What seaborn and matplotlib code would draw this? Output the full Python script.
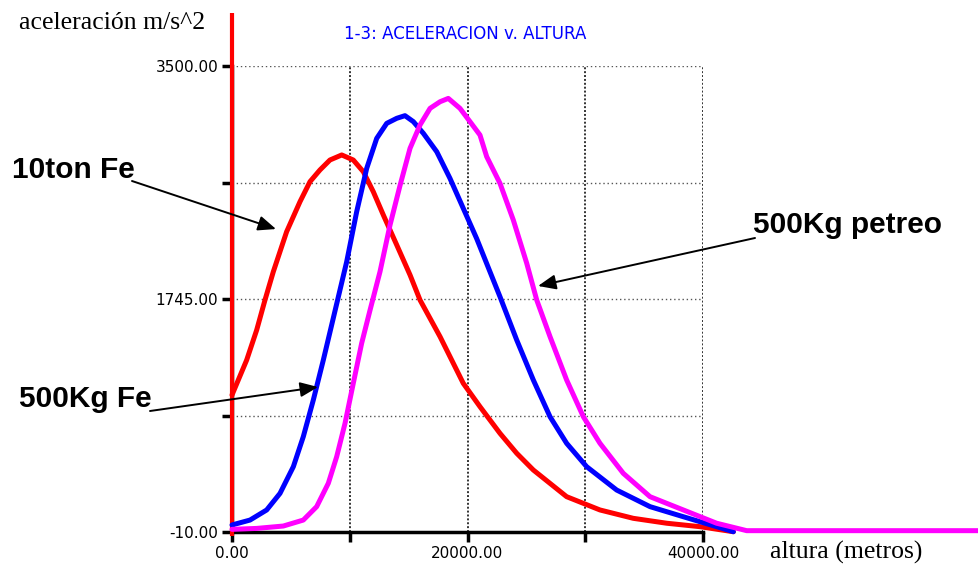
import numpy as np
import pandas as pd
import matplotlib
matplotlib.use("Agg")
import matplotlib.pyplot as plt
import seaborn as sns

# values (altura in m, aceleracion in m/s^2)
red_x = [0, 1245, 2095, 2800, 3510, 4640, 5775, 6625, 7470, 8320, 9320, 10300,
         11150, 12000, 12850, 13990, 15120, 15970, 17670, 19640, 21060, 22760,
         24180, 25590, 28420, 31250, 34080, 36920, 39750, 42580]
red_y = [1022, 1285, 1511, 1737, 1951, 2252, 2478, 2629, 2717, 2792, 2830, 2792,
         2704, 2553, 2378, 2152, 1926, 1737, 1461, 1110, 934, 733,
         583, 457, 256, 156, 93, 56, 30, -8]

blue_x = [0, 1530, 2945, 4077, 5210, 6055, 6905, 7755, 8600, 9740, 10590, 11440,
          12290, 13140, 13990, 14690, 15400, 16250, 17390, 18510, 19640, 20780,
          22760, 24180, 25590, 27010, 28420, 30120, 32670, 35500, 38330, 41160,
          42580]
blue_y = [43, 80, 156, 281, 482, 708, 984, 1285, 1600, 2026, 2403, 2729,
          2955, 3068, 3106, 3126, 3081, 2993, 2854, 2654, 2428, 2200,
          1762, 1436, 1135, 858, 658, 482, 306, 181, 105, 30,
          -8]

pink_x = [0, 2095, 4360, 6055, 7190, 8180, 8890, 9600, 10300, 11010, 11720, 12570,
          13420, 14270, 15120, 15970, 16820, 17670, 18370, 19360, 20210, 21060,
          21630, 22760, 23890, 25030, 25880, 27010, 28420, 29840, 31250, 33230,
          35500, 38330, 41160, 43710, 63440]
pink_y = [10, 17, 35, 80, 181, 357, 557, 809, 1110, 1411, 1660, 1951,
          2302, 2600, 2880, 3056, 3181, 3231, 3256, 3181, 3081, 2980,
          2817, 2616, 2340, 2014, 1737, 1461, 1135, 858, 658, 432,
          256, 156, 56, 0, 0]

red_spike = [-40, 3900]   # vertical red trace at altura 0

x_ticks = [0, 10000, 20000, 30000, 40000]
x_labels = ["0.00", "", "20000.00", "", "40000.00"]
y_ticks = [-10, 867.5, 1745, 2622.5, 3500]
y_labels = ["-10.00", "", "1745.00", "", "3500.00"]

W, H = 979, 569

sns.set_theme(style="white")
plt.rcParams["font.family"] = ["DejaVu Sans"]

fig = plt.figure(figsize=(W / 100, H / 100), dpi=100)
# plot box: x from px 232 to 703, y from px 66 to 532
ax = fig.add_axes([232 / W, (H - 532) / H, (703 - 232) / W, (532 - 66) / H])

ax.vlines(0, red_spike[0], red_spike[1], color="#ff0000", lw=3, zorder=4, clip_on=False)
sns.lineplot(x=red_x, y=red_y, color="#ff0000", lw=3.6, ax=ax, sort=False,
             estimator=None, clip_on=False, zorder=5)
sns.lineplot(x=blue_x, y=blue_y, color="#0000ff", lw=3.6, ax=ax, sort=False,
             estimator=None, clip_on=False, zorder=6)
sns.lineplot(x=pink_x, y=pink_y, color="#ff00ff", lw=3.6, ax=ax, sort=False,
             estimator=None, clip_on=False, zorder=7)

ax.set_xlim(0, 40000)
ax.set_ylim(-10, 3500)
ax.set_xticks(x_ticks)
ax.set_xticklabels(x_labels)
ax.set_yticks(y_ticks)
ax.set_yticklabels(y_labels)
ax.set_xlabel("")
ax.set_ylabel("")

ax.xaxis.grid(True, color="#333333", ls=(0, (1, 1)), lw=1.4)
ax.yaxis.grid(True, color="#555555", ls=(0, (1, 2)), lw=1.0)
ax.set_axisbelow(True)

for side in ["top", "right"]:
    ax.spines[side].set_visible(False)
for side in ["left", "bottom"]:
    ax.spines[side].set_color("black")
    ax.spines[side].set_linewidth(2.5)

ax.tick_params(bottom=True, left=True, direction="out", length=7, width=2.5,
               color="black", labelsize=11, labelcolor="black", pad=3)

# titles and axis captions
fig.text(465 / W, (H - 39) / H, "1-3: ACELERACION v. ALTURA", color="#0000ff",
         fontsize=12, ha="center", va="baseline")
fig.text(19 / W, (H - 29) / H, "aceleración m/s^2", family="Liberation Serif",
         fontsize=18.5, color="black", ha="left", va="baseline")
fig.text(770 / W, (H - 559) / H, "altura (metros)", family="Liberation Serif",
         fontsize=18.5, color="black", ha="left", va="baseline")

# labels with arrows
labels = [
    ("10ton Fe", 12, 178, (132, 181), (3737, 2272)),
    ("500Kg Fe", 19, 407, (150, 411), (7304, 1082)),
    ("500Kg petreo", 753, 233, (755, 238), (25990, 1843)),
]
for txt, tx, ty, tail, tip in labels:
    fig.text(tx / W, (H - ty) / H, txt, family="Liberation Sans", fontweight="bold",
             fontsize=21.5, color="black", ha="left", va="baseline")
    ax.annotate("", xy=tip, xycoords="data",
                xytext=(tail[0], H - tail[1]), textcoords="figure pixels",
                arrowprops=dict(arrowstyle="-|>,head_length=0.6,head_width=0.25",
                                color="black", lw=1.4, mutation_scale=18,
                                shrinkA=0, shrinkB=0),
                annotation_clip=False, zorder=10)

fig.savefig("out.png", dpi=100)
